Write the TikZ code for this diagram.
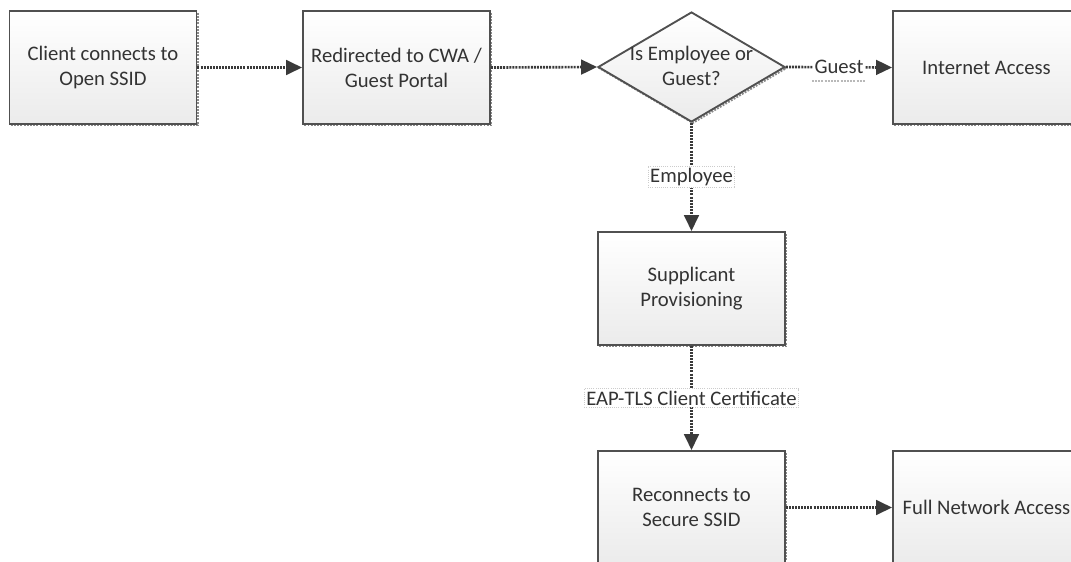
\documentclass[tikz,border=0pt]{standalone}
\usepackage{fontspec}
\setmainfont{Carlito}
\usetikzlibrary{shapes.geometric,arrows.meta}
\definecolor{edge}{HTML}{505050}
\definecolor{shadowc}{HTML}{8A8A8A}
\definecolor{ink}{HTML}{333333}
\definecolor{arr}{HTML}{3A3A3A}
\definecolor{botfill}{HTML}{EBEBEB}
\begin{document}
\begin{tikzpicture}[x=0.75pt,y=-0.75pt,
  every node/.style={font=\fontsize{15.5}{18.8}\selectfont, text=ink},
  flowbox/.style={draw=edge, line width=1.4pt, top color=white, bottom color=botfill,
    minimum width=140.25pt, minimum height=84.75pt, inner sep=0pt, align=center,
    preaction={draw=shadowc, line width=1.4pt, densely dotted, transform canvas={shift={(1pt,-1pt)}}}},
  decision/.style={diamond, draw=edge, line width=1.4pt, top color=white, bottom color=botfill,
    minimum width=140.25pt, minimum height=82.5pt, inner sep=0pt,
    preaction={draw=shadowc, line width=1.4pt, densely dotted, transform canvas={shift={(1pt,-1pt)}}}},
  flowarrow/.style={draw=arr, line width=2pt, dash pattern=on 1.5pt off 0.8pt,
    -{Triangle[length=12pt,width=11pt]}},
  edgelabel/.style={fill=white, draw=gray!40, densely dotted, line width=0.6pt, inner sep=1.5pt},
  plainlabel/.style={fill=white, inner sep=1pt}
]
\path[use as bounding box] (0,0) rectangle (1071,561);
\clip (0,0) rectangle (1071,561);

\node[flowbox] (b1) at (103,67.5) {Client connects to\\Open SSID};
\node[flowbox] (b2) at (396.5,67.5) {Redirected to CWA /\\Guest Portal};
\node[decision] (dia) at (691.5,67) {};
\node[align=center, inner sep=0pt] (dtext) at (691.5,66) {Is Employee or\\Guest?};
\node[flowbox] (inet) at (986.5,67.5) {Internet Access};
\node[flowbox] (supp) at (691.5,288.5) {Supplicant\\Provisioning};
\node[flowbox] (recon) at (691.5,507.5) {Reconnects to\\Secure SSID};
\node[flowbox] (full) at (986.5,507.5) {Full Network Access};

\draw[flowarrow] (b1.east) -- (b2.west);
\draw[flowarrow] (b2.east) -- (dia.west);
\draw[flowarrow] (dia.east) -- node[plainlabel] (glbl) {Guest} (inet.west);
\draw[gray!55, densely dotted, line width=1.4pt] ([yshift=-3pt]glbl.south west) -- ([yshift=-3pt]glbl.south east);
\draw[flowarrow] (dia.south) -- node[edgelabel] (elbl) {Employee} (supp.north);
\draw[flowarrow] (supp.south) -- node[edgelabel] (tlbl) {EAP-TLS Client Certificate} (recon.north);
\draw[flowarrow] (recon.east) -- (full.west);
\end{tikzpicture}
\end{document}
